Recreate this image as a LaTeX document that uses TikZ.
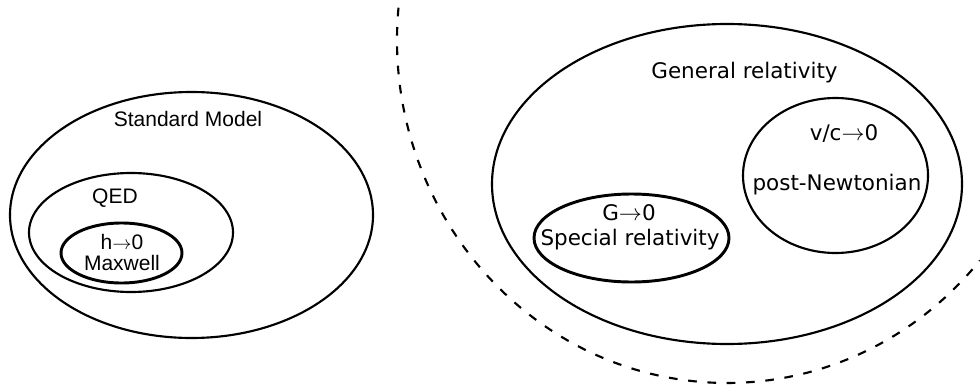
\documentclass[tikz,border=0pt]{standalone}
\usepackage{fontspec}
\setmainfont{Liberation Sans}
\newfontfamily\lsans{Liberation Sans}
\newfontfamily\dsans{DejaVu Sans}
\usetikzlibrary{shapes.geometric}
\newcommand{\arr}{\ensuremath{\rightarrow}}
\begin{document}
\begin{tikzpicture}[x=0.75pt,y=0.75pt,
  ov/.style 2 args={draw, ellipse, inner sep=0pt, line width=1.6pt,
    minimum width=#1*0.75pt, minimum height=#2*0.75pt},
  thickov/.style={line width=2.2pt},
  ltext/.style={anchor=base, inner sep=0pt, font=\lsans\fontsize{15.75pt}{18pt}\selectfont},
  rtext/.style={anchor=base, inner sep=0pt, font=\dsans\fontsize{16.1pt}{19pt}\selectfont},
  bound/.style={line width=1.6pt, dash pattern=on 6.5pt off 8pt}]
\useasboundingbox (0,0) rectangle (980,-385);
% left group
\node[ov={363}{246}] (sm) at (191.5,-215) {};
\node[ov={204}{119}] (qed) at (131,-232.5) {};
\node[ov={121}{60}, thickov] (mx) at (121.5,-253) {};
\node[ltext] (smt) at (188,-126.5) {Standard Model};
\node[ltext] (qedt) at (115,-203) {QED};
\node[ltext] (hz) at (122,-249) {h\arr0};
\node[ltext] (mxt) at (122,-270) {Maxwell};
% right group
\node[ov={470}{320}] (gr) at (727,-184) {};
\node[ov={185}{155}] (pn) at (835.5,-175.5) {};
\node[ov={195}{88}, thickov] (sr) at (631.5,-238) {};
\node[rtext] (grt) at (744.5,-79) {General relativity};
\node[rtext] (vc) at (844,-140) {v/c\arr0};
\node[rtext] (pnt) at (837,-190) {post-Newtonian};
\node[rtext] (gz) at (629,-220) {G\arr0};
\node[rtext] (srt) at (630,-245) {Special relativity};
% dashed boundary
\coordinate (dc) at (727,-40);
\draw[bound] (dc) ++(174.6:247.5pt and 257.25pt)
  arc[start angle=174.6, end angle=320, x radius=247.5pt, y radius=257.25pt];
\end{tikzpicture}
\end{document}
